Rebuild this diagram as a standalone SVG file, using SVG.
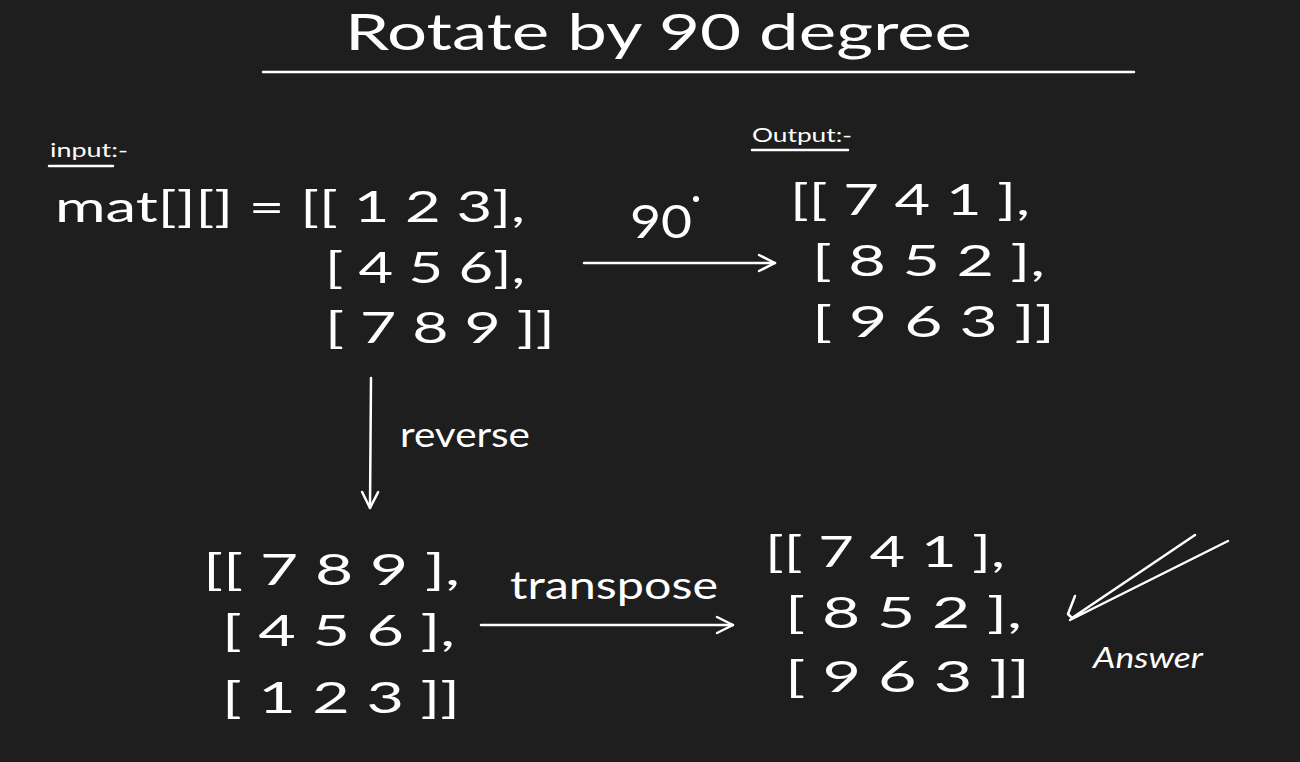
<svg xmlns="http://www.w3.org/2000/svg" width="1300" height="762" viewBox="0 0 1300 762">
<defs>
<marker id="ah" viewBox="0 0 20 20" refX="18" refY="10" markerWidth="20" markerHeight="20" markerUnits="userSpaceOnUse" orient="auto">
<path d="M2,2 L18,10 L2,18" fill="none" stroke="#ffffff" stroke-width="2.5" stroke-linecap="round" stroke-linejoin="round"/>
</marker>
<style>
text{fill:#ffffff;font-family:"Lato","Noto Sans","Liberation Sans",sans-serif;}
.m{font-size:42px;}
.lbl{font-size:34px;}
.sm{font-size:20px;}
.ln{stroke:#ffffff;stroke-width:2.5;fill:none;stroke-linecap:round;stroke-linejoin:round;}
</style>
</defs>
<rect width="1300" height="762" fill="#1e1e1e"/>
<g id="title">
<text x="345" y="50" font-size="50" textLength="627" lengthAdjust="spacingAndGlyphs">Rotate by 90 degree</text>
<line class="ln" x1="263" y1="72" x2="1134" y2="72" stroke-width="3.5"/>
</g>
<g id="input">
<text class="sm" x="50" y="157" textLength="78" lengthAdjust="spacingAndGlyphs">input:-</text>
<line class="ln" x1="49" y1="166" x2="113" y2="166" stroke-width="2"/>
<text class="m" x="55" y="222" textLength="470" lengthAdjust="spacingAndGlyphs" xml:space="preserve">mat[][] = [[ 1 2 3],</text>
<text class="m" x="325" y="283" textLength="200" lengthAdjust="spacingAndGlyphs" xml:space="preserve">[ 4 5 6],</text>
<text class="m" x="325" y="343" textLength="230" lengthAdjust="spacingAndGlyphs" xml:space="preserve">[ 7 8 9 ]]</text>
</g>
<g id="output">
<text class="sm" x="752" y="142" textLength="100" lengthAdjust="spacingAndGlyphs">Output:-</text>
<line class="ln" x1="752" y1="150" x2="848" y2="150" stroke-width="2"/>
<text class="m" x="790" y="215" textLength="240" lengthAdjust="spacingAndGlyphs" xml:space="preserve">[[ 7 4 1 ],</text>
<text class="m" x="812" y="276" textLength="233" lengthAdjust="spacingAndGlyphs" xml:space="preserve">[ 8 5 2 ],</text>
<text class="m" x="812" y="337" textLength="243" lengthAdjust="spacingAndGlyphs" xml:space="preserve">[ 9 6 3 ]]</text>
</g>
<g id="reversed">
<text class="m" x="203" y="585" textLength="257" lengthAdjust="spacingAndGlyphs" xml:space="preserve">[[ 7 8 9 ],</text>
<text class="m" x="222" y="646" textLength="233" lengthAdjust="spacingAndGlyphs" xml:space="preserve">[ 4 5 6 ],</text>
<text class="m" x="222" y="713" textLength="238" lengthAdjust="spacingAndGlyphs" xml:space="preserve">[ 1 2 3 ]]</text>
</g>
<g id="answer">
<text class="m" x="765" y="567" textLength="240" lengthAdjust="spacingAndGlyphs" xml:space="preserve">[[ 7 4 1 ],</text>
<text class="m" x="785" y="628" textLength="237" lengthAdjust="spacingAndGlyphs" xml:space="preserve">[ 8 5 2 ],</text>
<text class="m" x="785" y="692" textLength="245" lengthAdjust="spacingAndGlyphs" xml:space="preserve">[ 9 6 3 ]]</text>
</g>
<g id="check">
<path class="ln" d="M1075,596 L1068,614 L1072,618 L1195,535 M1070,620 L1228,541" stroke-width="3"/>
<text x="1093" y="668" font-size="28" font-style="italic" textLength="110" lengthAdjust="spacingAndGlyphs">Answer</text>
</g>
<g id="connectors">
<line class="ln" x1="584" y1="263" x2="775" y2="263" marker-end="url(#ah)"/>
<text x="630" y="238" font-size="46" textLength="62" lengthAdjust="spacingAndGlyphs">90</text>
<circle cx="696" cy="199" r="3" fill="#ffffff"/>
<line class="ln" x1="371" y1="378" x2="370" y2="508" marker-end="url(#ah)"/>
<text class="lbl" x="400" y="447" textLength="130" lengthAdjust="spacingAndGlyphs">reverse</text>
<line class="ln" x1="481" y1="625" x2="733" y2="625" marker-end="url(#ah)"/>
<text x="510" y="599" font-size="38" textLength="208" lengthAdjust="spacingAndGlyphs">transpose</text>
</g>
</svg>
